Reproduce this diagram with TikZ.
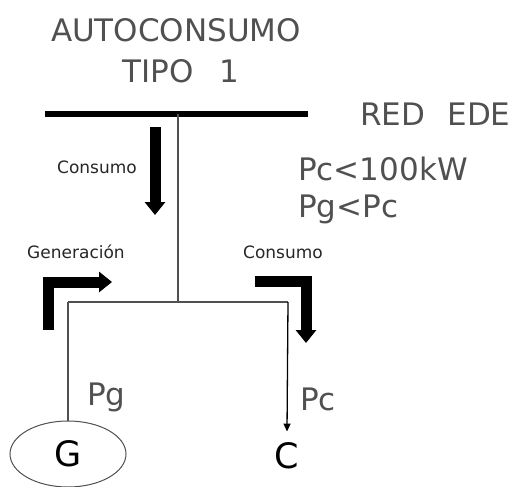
\documentclass[tikz,border=0pt]{standalone}
\usepackage{fontspec}
\setmainfont{DejaVu Sans}
\usetikzlibrary{arrows.meta, positioning, shapes.geometric}
\definecolor{mygray}{RGB}{80,80,80}

\begin{document}
\begin{tikzpicture}[x=1pt,y=-1pt,every node/.style={inner sep=0pt,text=mygray,font=\fontsize{31}{33}\selectfont},
    small/.style={font=\fontsize{17}{19}\selectfont,text=black!85},
    big/.style={font=\fontsize{35}{37}\selectfont,text=black},
    wire/.style={draw=mygray,line width=1.3pt},
    flow/.style={line width=11pt,line join=miter,-{Triangle[length=13pt,width=20pt]}}]
    \useasboundingbox (0,0) rectangle (517,487);
    % barra de la red
    \coordinate (busL) at (45,114);
    \coordinate (busR) at (308,114);
    \coordinate (tap) at (178,114);
    \coordinate (mid) at (178,302);
    \coordinate (jg) at (68,302);
    \coordinate (jc) at (288,302);
    \draw[line width=6pt] (busL) -- (busR);
    \node[anchor=base] (title) at (176,42) {AUTOCONSUMO};
    \node[anchor=base] (tipo) at (181,83) {TIPO\hspace{0.5em} 1};
    \node[anchor=base west] (red) at (360,125) {RED\hspace{0.4em} EDE};
    \node[anchor=base west] (pmax) at (298,180) {Pc<100kW};
    \node[anchor=base west] (prel) at (298,217) {Pg<Pc};
    % cargas
    \node[draw=mygray,line width=1pt,ellipse,minimum width=116pt,minimum height=66pt,big] (G) at (68,454) {G};
    \node[big,inner sep=11pt] (C) at (287,456) {C};
    \draw[wire] (tap) -- (mid);
    \draw[wire] (jg) -- (jc);
    \draw[wire] (jg) -- (G.north);
    \draw[wire,-{Triangle[length=8pt,width=7pt]},draw=black] (jc) -- (C.north);
    \node[anchor=base west] (pg) at (87,405) {Pg};
    \node[anchor=base west] (pc) at (300,410) {Pc};
    % flujos
    \draw[flow] (155,127) -- (155,215);
    \node[small,anchor=base] (cons1) at (97,173) {Consumo};
    \draw[flow] (48,330) -- (48,282) -- (112,282);
    \node[small,anchor=base] (gen) at (76,258) {Generación};
    \draw[flow] (255,281) -- (306,281) -- (306,343);
    \node[small,anchor=base] (cons2) at (283,258) {Consumo};
\end{tikzpicture}
\end{document}
